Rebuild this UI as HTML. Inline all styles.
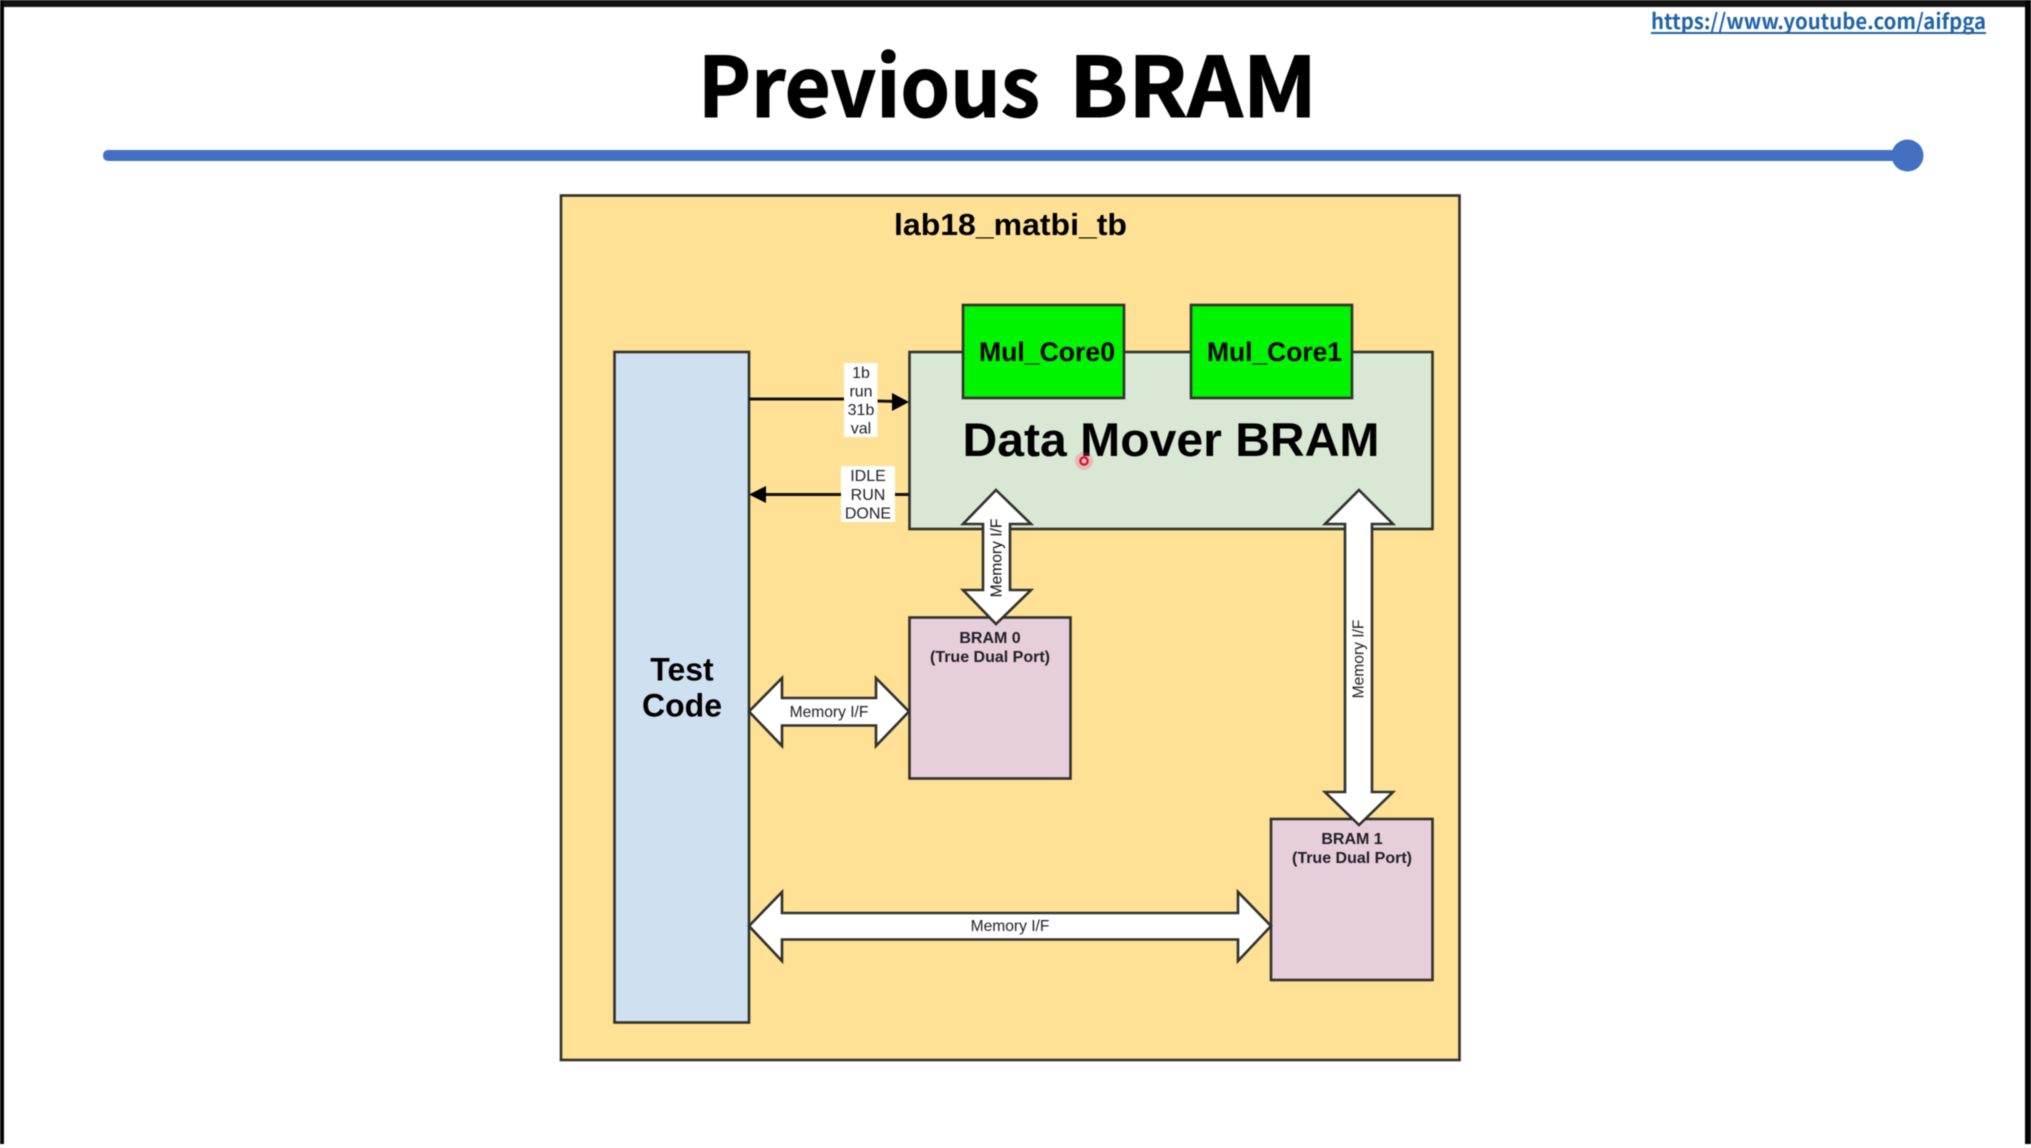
<!DOCTYPE html>
<html>
<head>
<meta charset="utf-8">
<title>Previous BRAM</title>
<style>
html,body{margin:0;padding:0;background:#fff;width:2031px;height:1148px;overflow:hidden}
svg{display:block;position:absolute;left:0;top:0;filter:blur(0.5px)}
text{font-family:"Liberation Sans",Arial,sans-serif;fill:#000}
.b{font-weight:bold}
.n{font-family:"Noto Sans CJK KR","Liberation Sans",sans-serif;font-weight:bold}
.s{fill:#fff;stroke:#30302c;stroke-width:2.6}
.box{stroke:#30302c;stroke-width:2.6}
.lab{font-size:16px;text-anchor:middle;fill:#1e1e26}
.br{font-size:16px;font-weight:bold;text-anchor:middle;fill:#1e1e26}
</style>
</head>
<body>
<svg width="2031" height="1148" viewBox="0 0 2031 1148" xmlns="http://www.w3.org/2000/svg">
  <!-- frame -->
  <rect x="0" y="0" width="2031" height="1148" fill="#ffffff"/>
  <rect x="0" y="0" width="2031" height="7" fill="#151515"/>
  <rect x="0" y="0" width="4" height="1144" fill="#050505"/>
  <rect x="2025" y="0" width="6" height="1144" fill="#050505"/>

  <!-- header -->
  <text class="n" x="698" y="117" font-size="83" textLength="342" lengthAdjust="spacingAndGlyphs" style="fill:#000;stroke:#000;stroke-width:1">Previous</text>
  <text class="n" x="1069" y="117" font-size="83" textLength="248" lengthAdjust="spacingAndGlyphs" style="fill:#000;stroke:#000;stroke-width:1">BRAM</text>
  <text class="n" x="1651" y="29" font-size="21" textLength="335" lengthAdjust="spacingAndGlyphs" style="fill:#1f63a8">https://www.youtube.com/aifpga</text>
  <rect x="1651" y="32" width="335" height="2" fill="#1f63a8"/>
  <rect x="103" y="150" width="1800" height="11" rx="5" fill="#4470c4"/>
  <circle cx="1907.5" cy="155.5" r="16" fill="#4470c4"/>

  <!-- outer box -->
  <rect class="box" x="561" y="195.5" width="898.5" height="864.5" fill="#fee195"/>
  <text class="b" x="894" y="235" font-size="31" textLength="233" lengthAdjust="spacingAndGlyphs">lab18_matbi_tb</text>

  <!-- test code -->
  <rect class="box" x="614.5" y="352" width="134.5" height="670.5" fill="#cfe1f1"/>
  <text class="b" x="682" y="680.5" font-size="32" text-anchor="middle">Test</text>
  <text class="b" x="682" y="716.5" font-size="32" text-anchor="middle">Code</text>

  <!-- data mover -->
  <rect class="box" x="909.5" y="352" width="523" height="177" fill="#d9e8d4"/>
  <rect class="box" x="963" y="305" width="161" height="93" fill="#00f400"/>
  <rect class="box" x="1191" y="305" width="161" height="93" fill="#00f400"/>
  <text class="b" x="979" y="361" font-size="26.4" textLength="136" lengthAdjust="spacingAndGlyphs">Mul_Core0</text>
  <text class="b" x="1207" y="361" font-size="26.4" textLength="135" lengthAdjust="spacingAndGlyphs">Mul_Core1</text>
  <text class="b" x="962.5" y="456" font-size="47.5" textLength="417" lengthAdjust="spacingAndGlyphs">Data Mover BRAM</text>

  <!-- brams -->
  <rect class="box" x="909.5" y="617.5" width="161" height="161" fill="#e6cedb"/>
  <text class="br" x="990" y="643">BRAM 0</text>
  <text class="br" x="990" y="662">(True Dual Port)</text>
  <rect class="box" x="1271" y="819" width="161.5" height="161" fill="#e6cedb"/>
  <text class="br" x="1352" y="844">BRAM 1</text>
  <text class="br" x="1352" y="863">(True Dual Port)</text>

  <!-- thin arrows -->
  <line x1="749" y1="399" x2="846" y2="399" stroke="#111" stroke-width="3"/>
  <line x1="876" y1="401" x2="895" y2="401.5" stroke="#111" stroke-width="3"/>
  <polygon points="909,402 892,393 892,411" fill="#000"/>
  <line x1="762" y1="494.5" x2="909" y2="494.5" stroke="#111" stroke-width="3"/>
  <polygon points="749,494.5 766,486 766,503" fill="#000"/>

  <rect x="844" y="363" width="33.5" height="74" fill="#ffffff"/>
  <text class="lab" x="861" y="378">1b</text>
  <text class="lab" x="861" y="396.5">run</text>
  <text class="lab" x="861" y="415">31b</text>
  <text class="lab" x="861" y="433.5">val</text>

  <rect x="841" y="466" width="54" height="56" fill="#ffffff"/>
  <text class="lab" x="868" y="481">IDLE</text>
  <text class="lab" x="868" y="500">RUN</text>
  <text class="lab" x="868" y="518.5">DONE</text>

  <!-- double arrows -->
  <polygon class="s" points="996,490 1031,524 1010,524 1010,590 1031,590 996,624 963,590 983,590 983,524 963,524"/>
  <text class="lab" transform="translate(1001.5,558) rotate(-90)" style="font-size:15.6px;fill:#111">Memory I/F</text>

  <polygon class="s" points="1359,490 1393,524 1372,524 1372,792 1393,792 1359,825 1325,792 1345,792 1345,524 1325,524"/>
  <text class="lab" transform="translate(1363.5,659) rotate(-90)" style="font-size:15.6px;fill:#222">Memory I/F</text>

  <polygon class="s" points="749,711.5 782,678 782,698 876,698 876,678 909,711.5 876,746 876,725.5 782,725.5 782,746"/>
  <text class="lab" x="829" y="717" style="font-size:15.6px">Memory I/F</text>

  <polygon class="s" points="749,926 782,892 782,913 1238,913 1238,892 1271,926 1238,961 1238,939.5 782,939.5 782,961"/>
  <text class="lab" x="1010" y="931" style="font-size:15.6px">Memory I/F</text>

  <!-- pointer -->
  <circle cx="1084" cy="461" r="9" fill="#ff3a5a" opacity="0.25"/>
  <circle cx="1084" cy="461" r="3.6" fill="#f7d0d0" stroke="#e0102a" stroke-width="2.4"/>
</svg>
</body>
</html>
